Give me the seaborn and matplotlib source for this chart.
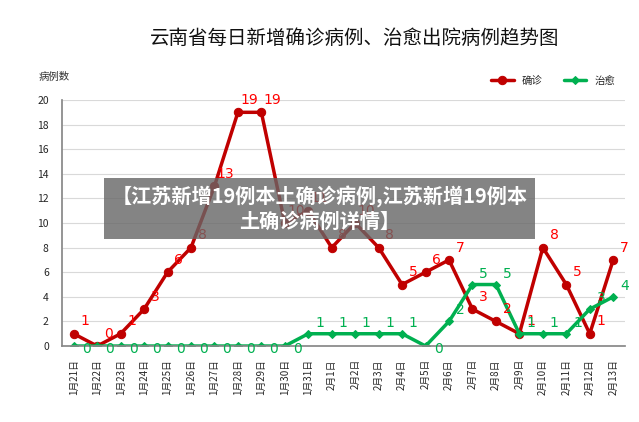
import matplotlib
matplotlib.use("Agg")
import matplotlib.pyplot as plt
import seaborn as sns
import pandas as pd

dates = ["1月21日","1月22日","1月23日","1月24日","1月25日","1月26日","1月27日","1月28日","1月29日","1月30日","1月31日",
         "2月1日","2月2日","2月3日","2月4日","2月5日","2月6日","2月7日","2月8日","2月9日","2月10日","2月11日","2月12日","2月13日"]
confirmed = [1,0,1,3,6,8,13,19,19,10,11,8,10,8,5,6,7,3,2,1,8,5,1,7]
cured = [0,0,0,0,0,0,0,0,0,0,1,1,1,1,1,0,2,5,5,1,1,1,3,4]

sns.set_theme(style="white")
plt.rcParams['font.family'] = ['Noto Sans CJK SC', 'DejaVu Sans']

df = pd.DataFrame({"x": range(len(dates)), "确诊": confirmed, "治愈": cured})
fig = plt.figure(figsize=(6.39, 4.22), dpi=100)
ax = fig.add_axes([0.097, 0.18, 0.881, 0.583])
red = "#C00000"; green = "#00B050"
sns.lineplot(data=df, x="x", y="确诊", ax=ax, color=red, lw=2.5, marker="o", ms=6, mec=red, label="确诊")
sns.lineplot(data=df, x="x", y="治愈", ax=ax, color=green, lw=2.5, marker="D", ms=4, mec=green, label="治愈")
for i, (c, g) in enumerate(zip(confirmed, cured)):
    ax.annotate(str(c), (i, c), xytext=(8, 6), textcoords="offset points", color="red", fontsize=10, ha="center", family="DejaVu Sans")
    ax.annotate(str(g), (i, g), xytext=(9, -5) if g == 0 else (8, 5), textcoords="offset points", color=green, fontsize=10, ha="center", family="DejaVu Sans")
ax.set_ylim(0, 20)
ax.set_yticks(range(0, 21, 2))
ax.set_xlim(-0.5, len(dates) - 0.5)
ax.set_xticks(range(len(dates)))
ax.set_xticklabels(dates, rotation=90, fontsize=7)
ax.tick_params(axis="y", labelsize=7.5)
ax.yaxis.grid(True, color="#D9D9D9", lw=0.8)
ax.set_xlabel(""); ax.set_ylabel("")
for s in ["top", "right"]:
    ax.spines[s].set_visible(False)
ax.spines["left"].set_color("#888888"); ax.spines["bottom"].set_color("#888888")
ax.legend(loc="lower right", bbox_to_anchor=(1.0, 1.02), ncol=2, frameon=False, fontsize=7.5, handlelength=2.2)
fig.text(0.06, 0.81, "病例数", fontsize=7.5, color="#333333")
fig.text(0.555, 0.895, "云南省每日新增确诊病例、治愈出院病例趋势图", fontsize=14, ha="center", color="#111111")
fig.text(0.5, 0.505, "【江苏新增19例本土确诊病例,江苏新增19例本\n土确诊病例详情】", fontsize=14.5, ha="center", va="center",
         color="white", fontweight="bold", linespacing=1.15,
         bbox=dict(boxstyle="square,pad=0.35", fc="#666666", ec="none", alpha=0.8))
fig.savefig("out.png", dpi=100)
